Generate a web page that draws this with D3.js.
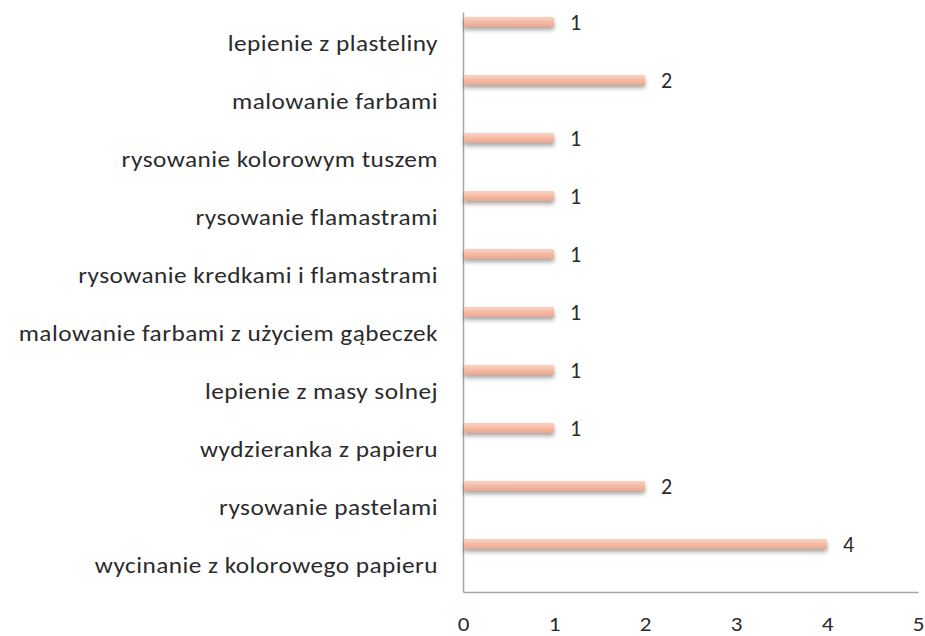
<!DOCTYPE html>
<html>
<head>
<meta charset="utf-8">
<script src="https://cdn.jsdelivr.net/npm/d3@7"></script>
<style>
  body { margin: 0; background: #fff; }
  text { font-family: Carlito, Lato, "Open Sans", sans-serif; fill: #2b2b2b; }
</style>
</head>
<body>
<script>
// categories top to bottom
var categories = [
    "lepienie z plasteliny",
    "malowanie farbami ",
    "rysowanie kolorowym tuszem",
    "rysowanie flamastrami",
    "rysowanie kredkami i flamastrami",
    "malowanie farbami z użyciem gąbeczek",
    "lepienie z masy solnej",
    "wydzieranka z papieru",
    "rysowanie pastelami",
    "wycinanie z kolorowego papieru"
];
var values = [1, 2, 1, 1, 1, 1, 1, 1, 2, 4];
var xTicks = [0, 1, 2, 3, 4, 5];

var width = 925, height = 636;
var plotLeft = 463, plotRight = 918, plotTop = 12, plotBottom = 592;
var stretch = 1.15; // the labels in the picture are a bit wider than the font

var svg = d3.select("body").append("svg")
    .attr("width", width)
    .attr("height", height);

var defs = svg.append("defs");
var grad = defs.append("linearGradient").attr("id", "barGrad")
    .attr("x1", 0).attr("y1", 0).attr("x2", 0).attr("y2", 1);
grad.append("stop").attr("offset", "0%").attr("stop-color", "#fad3c3");
grad.append("stop").attr("offset", "55%").attr("stop-color", "#f4b9a2");
grad.append("stop").attr("offset", "100%").attr("stop-color", "#eda88f");

var shadow = defs.append("filter").attr("id", "shadow")
    .attr("x", "-5%").attr("y", "-50%").attr("width", "110%").attr("height", "250%");
shadow.append("feDropShadow")
    .attr("dx", 0).attr("dy", 3)
    .attr("stdDeviation", 2)
    .attr("flood-color", "#000")
    .attr("flood-opacity", 0.35);

var x = d3.scaleLinear().domain([0, 5]).range([plotLeft, plotRight]);
var y = d3.scaleBand().domain(categories).range([plotTop, plotBottom]);

// axes
var xAxis = svg.append("g")
    .attr("transform", "translate(0," + plotBottom + ")")
    .call(d3.axisBottom(x).tickValues(xTicks).tickSize(0).tickPadding(24).tickFormat(d3.format("d")));
xAxis.select(".domain").attr("stroke", "#a6a6a6").attr("stroke-width", 1.5);
xAxis.selectAll("text").attr("font-size", 21).attr("fill", "#2b2b2b")
    .attr("transform", "scale(1.1,1)");

var yAxis = svg.append("g")
    .attr("transform", "translate(" + plotLeft + ",0)")
    .call(d3.axisLeft(y).tickSize(0));
yAxis.select(".domain").attr("stroke", "#a6a6a6").attr("stroke-width", 1.5);
yAxis.selectAll("text")
    .attr("font-size", 22)
    .attr("fill", "#2b2b2b")
    .attr("letter-spacing", 0.4)
    .attr("x", -25 / stretch)
    .attr("dy", "0.45em")
    .attr("transform", "scale(" + stretch + ",1)");

// bars sit near the top of each band
var barH = 10, barOff = 5;
svg.selectAll("rect.bar")
    .data(values)
    .enter().append("rect")
    .attr("class", "bar")
    .attr("x", x(0) + 1)
    .attr("y", function(d, i) { return y(categories[i]) + barOff; })
    .attr("width", function(d) { return x(d) - x(0) - 1; })
    .attr("height", barH)
    .attr("fill", "url(#barGrad)")
    .attr("filter", "url(#shadow)");

svg.selectAll("text.val")
    .data(values)
    .enter().append("text")
    .attr("class", "val")
    .attr("x", function(d) { return x(d) + 16; })
    .attr("y", function(d, i) { return y(categories[i]) + barOff + barH / 2; })
    .attr("dy", "0.36em")
    .attr("font-size", 22)
    .text(function(d) { return d; });
</script>
</body>
</html>
